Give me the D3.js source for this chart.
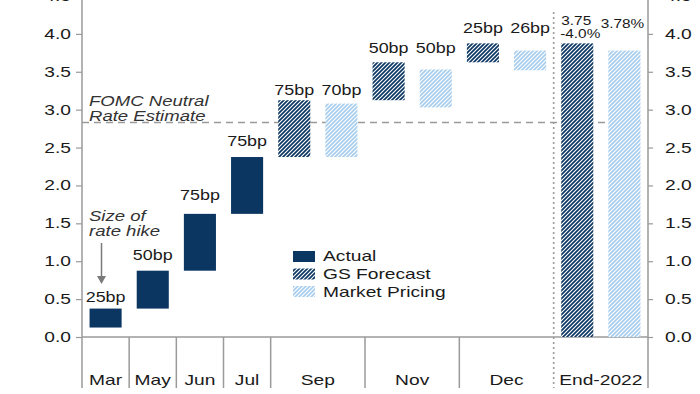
<!DOCTYPE html>
<html lang="en">
<head>
  <meta charset="UTF-8" />
  <title>Fed hikes waterfall</title>
  <script src="https://d3js.org/d3.v7.min.js"></script>
  <style>
    body { margin: 0; background: #fff; }
    svg { display: block; font-family: "Liberation Sans", Arial, sans-serif; }
    text { fill: #1a1a1a; }
  </style>
</head>
<body>
  <svg width="700" height="394"></svg>
  <script>
    // categories and how many sub-columns each one takes
    const categories = ["Mar", "May", "Jun", "Jul", "Sep", "Nov", "Dec", "End-2022"];
    const catSpan = [1, 1, 1, 1, 2, 2, 2, 2];

    // actual hikes (fed funds midpoint, %)
    const actualLow = [0.125, 0.375, 0.875, 1.625];
    const actualHigh = [0.375, 0.875, 1.625, 2.375];
    const actualLabels = ["25bp", "50bp", "75bp", "75bp"];

    // GS forecast: Sep, Nov, Dec, End-2022
    const gsLow = [2.375, 3.125, 3.625, 0];
    const gsHigh = [3.125, 3.625, 3.875, 3.875];
    const gsLabels = ["75bp", "50bp", "25bp", "3.75|-4.0%"];

    // market pricing: Sep, Nov, Dec, End-2022
    const mktLow = [2.375, 3.03, 3.52, 0];
    const mktHigh = [3.08, 3.53, 3.78, 3.78];
    const mktLabels = ["70bp", "50bp", "26bp", "3.78%"];

    const neutralRate = 2.83;
    const yTicks = [0, 0.5, 1, 1.5, 2, 2.5, 3, 3.5, 4, 4.5];

    const navy = "#0b3662";
    const light = "#a7cdee";
    const grey = "#9a9a9a";
    const SX = 1.28; // glyphs in the original are stretched horizontally

    const svg = d3.select("svg");
    const left = 82, right = 648, base = 337, bottom = 388;

    const totalUnits = d3.sum(catSpan);
    const x = d3.scaleLinear().domain([0, totalUnits]).range([left, right]);
    const y = d3.scaleLinear().domain([0, 4.5]).range([base, -4]);
    const unitW = x(1) - x(0);
    const barW = unitW * 0.68;

    const catStart = d3.cumsum([0].concat(catSpan)).slice(0, categories.length);

    // stretched text helper
    function stext(g, tx, ty, str, opts = {}) {
      return g.append("text")
        .attr("transform", `translate(${tx},${ty}) scale(${SX},1)`)
        .attr("text-anchor", opts.anchor || "start")
        .attr("font-size", opts.size || 15)
        .attr("font-style", opts.italic ? "italic" : null)
        .style("fill", opts.fill || null)
        .text(str);
    }

    // hatch patterns "/"
    const defs = svg.append("defs");
    [["gsHatch", navy], ["mktHatch", light]].forEach(([id, col]) => {
      const p = defs.append("pattern")
        .attr("id", id)
        .attr("patternUnits", "userSpaceOnUse")
        .attr("width", 4).attr("height", 4);
      p.append("rect").attr("width", 4).attr("height", 4).attr("fill", "#fff");
      p.append("path")
        .attr("d", "M-1,1 l2,-2 M0,4 l4,-4 M3,5 l2,-2")
        .attr("stroke", col)
        .attr("stroke-width", 1.7);
    });

    // neutral rate dashed line
    svg.append("line")
      .attr("x1", left).attr("x2", right - 2)
      .attr("y1", y(neutralRate)).attr("y2", y(neutralRate))
      .attr("stroke", grey).attr("stroke-width", 1.5)
      .attr("stroke-dasharray", "7,5");

    // axes (left and right)
    const gl = svg.append("g").attr("transform", `translate(${left},0)`)
      .call(d3.axisLeft(y).tickValues(yTicks).tickSize(6).tickFormat(d3.format(".1f")));
    const gr = svg.append("g").attr("transform", `translate(${right},0)`)
      .call(d3.axisRight(y).tickValues(yTicks).tickSize(5).tickFormat(d3.format(".1f")));
    [gl, gr].forEach(g => {
      g.select(".domain").remove();
      g.selectAll(".tick line").attr("stroke", grey).attr("stroke-width", 1.2);
      g.selectAll(".tick text").remove();
    });
    yTicks.forEach(v => {
      stext(svg, left - 11, y(v) + 5, d3.format(".1f")(v), { anchor: "end" });
      stext(svg, right + 17, y(v) + 5, d3.format(".1f")(v));
    });

    svg.append("line").attr("x1", left).attr("x2", left).attr("y1", 0).attr("y2", bottom)
      .attr("stroke", grey).attr("stroke-width", 1.5);
    svg.append("line").attr("x1", right).attr("x2", right).attr("y1", 0).attr("y2", bottom)
      .attr("stroke", grey).attr("stroke-width", 1.5);
    svg.append("line").attr("x1", left).attr("x2", right).attr("y1", base).attr("y2", base)
      .attr("stroke", grey).attr("stroke-width", 1.5);

    // category separators and labels
    categories.forEach((c, i) => {
      const x0 = x(catStart[i]);
      if (i > 0) {
        const isEnd = i === categories.length - 1;
        svg.append("line")
          .attr("x1", x0).attr("x2", x0)
          .attr("y1", isEnd ? 12 : base).attr("y2", bottom)
          .attr("stroke", grey).attr("stroke-width", isEnd ? 1.6 : 1.5)
          .attr("stroke-dasharray", isEnd ? "2,3" : null);
      }
      stext(svg, x(catStart[i] + catSpan[i] / 2), 385, c, { anchor: "middle" });
    });

    // bars
    function bar(unit, lo, hi, fill) {
      svg.append("rect")
        .attr("x", x(unit + 0.5) - barW / 2)
        .attr("width", barW)
        .attr("y", y(hi))
        .attr("height", y(lo) - y(hi))
        .attr("fill", fill);
    }
    const labelGap = [7, 11, 14, 11, 5, 9, 10, 5];

    actualLow.forEach((lo, i) => {
      bar(catStart[i], lo, actualHigh[i], navy);
      stext(svg, x(catStart[i] + 0.5), y(actualHigh[i]) - labelGap[i], actualLabels[i],
        { anchor: "middle", size: 14 });
    });

    gsLow.forEach((lo, j) => {
      const i = j + 4;
      bar(catStart[i], lo, gsHigh[j], "url(#gsHatch)");
      bar(catStart[i] + 1, mktLow[j], mktHigh[j], "url(#mktHatch)");
      const isEnd = i === categories.length - 1;
      const top = y(Math.max(gsHigh[j], mktHigh[j])) - labelGap[i];
      if (!isEnd) {
        stext(svg, x(catStart[i] + 0.5), top, gsLabels[j], { anchor: "middle", size: 14 });
        stext(svg, x(catStart[i] + 1.5), top, mktLabels[j], { anchor: "middle", size: 14 });
      } else {
        const lines = gsLabels[j].split("|");
        stext(svg, x(catStart[i] + 0.5) - 1, top - 13, lines[0], { anchor: "middle", size: 12 });
        stext(svg, x(catStart[i] + 0.5) + 3, top, lines[1], { anchor: "middle", size: 12 });
        stext(svg, x(catStart[i] + 1.5) - 2, top - 10, mktLabels[j], { anchor: "middle", size: 12 });
      }
    });

    // annotations
    stext(svg, 89, 106, "FOMC Neutral", { italic: true, size: 14.5, fill: "#333" });
    stext(svg, 89, 121, "Rate Estimate", { italic: true, size: 14.5, fill: "#333" });
    stext(svg, 89, 221, "Size of", { italic: true, size: 14.5, fill: "#333" });
    stext(svg, 89, 236, "rate hike", { italic: true, size: 14.5, fill: "#333" });
    svg.append("line").attr("x1", 101.5).attr("x2", 101.5).attr("y1", 243).attr("y2", 277)
      .attr("stroke", "#7a7a7a").attr("stroke-width", 1.5);
    svg.append("path").attr("d", "M97,276 L106,276 L101.5,284 Z").attr("fill", "#7a7a7a");

    // legend
    const legend = [["Actual", navy], ["GS Forecast", "url(#gsHatch)"], ["Market Pricing", "url(#mktHatch)"]];
    legend.forEach(([name, fill], k) => {
      svg.append("rect").attr("x", 293).attr("y", 251 + k * 17.5)
        .attr("width", 22).attr("height", 11).attr("fill", fill);
      stext(svg, 323, 261 + k * 18, name);
    });
  </script>
</body>
</html>
